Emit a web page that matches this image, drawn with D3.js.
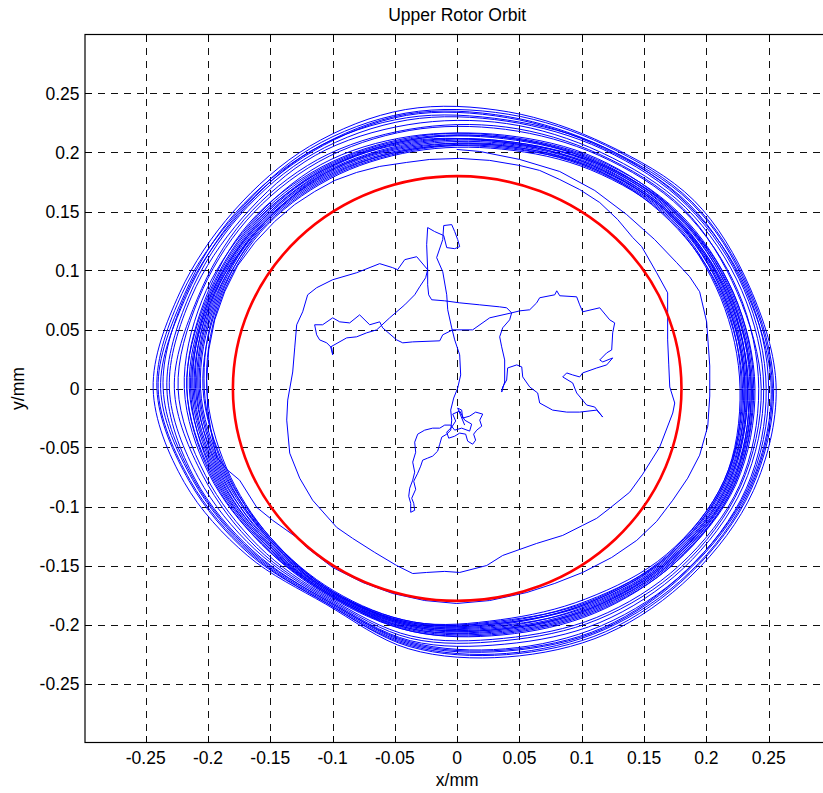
<!DOCTYPE html>
<html><head><meta charset="utf-8">
<script src="https://cdn.jsdelivr.net/npm/d3@7"></script>
<style>
body{margin:0;background:#fff}
text{font-family:"Liberation Sans",Arial,Helvetica,sans-serif;fill:#000}
</style>
</head><body>
<svg id="chart" width="823" height="793"></svg>
<script>
// ---------------- data ----------------
const chartTitle = "Upper Rotor Orbit";
const xLabel = "x/mm";
const yLabel = "y/mm";
const xLimits = [-0.2987, 0.3];
const yLimits = [-0.3, 0.3];
const xTicks = [-0.25,-0.2,-0.15,-0.1,-0.05,0,0.05,0.1,0.15,0.2,0.25];
const xTickLabels = ["-0.25","-0.2","-0.15","-0.1","-0.05","0","0.05","0.1","0.15","0.2","0.25"];
const yTicks = [-0.25,-0.2,-0.15,-0.1,-0.05,0,0.05,0.1,0.15,0.2,0.25];
const yTickLabels = ["-0.25","-0.2","-0.15","-0.1","-0.05","0","0.05","0.1","0.15","0.2","0.25"];
const refCircleRadius = 0.18;

// start-up wander of the rotor centre (mm)
const wanderX = [0.0060,0.0004,0.0036,0.0044,0.0100,0.0148,0.0205,0.0181,0.0197,0.0157,0.0132,0.0148,0.0124,0.0084,0.0068,0.0020,-0.0020,-0.0068,-0.0084,-0.0044,-0.0012,-0.0036,0.0020,0.0060,0.0116,0.0100,0.0036,-0.0020,-0.0052,-0.0100,
-0.0140,-0.0197,-0.0261,-0.0317,-0.0341,-0.0333,-0.0357,-0.0341,-0.0357,-0.0381,-0.0389,-0.0373,-0.0373,-0.0341,-0.0349,-0.0365,-0.0333,-0.0349,-0.0317,-0.0293,-0.0277,-0.0237,-0.0197,-0.0157,-0.0140,-0.0124,-0.0084,-0.0052,-0.0044,-0.0052,
-0.0028,0.0004,0.0028,0.0020,-0.0020,-0.0044,-0.0076,-0.0084,-0.0116,-0.0165,-0.0116,-0.0108,-0.0044,-0.0020,0.0004,0.0020,-0.0020,-0.0084,-0.0108,-0.0181,-0.0237,-0.0245,-0.0237,-0.0237,-0.0229,-0.0205,-0.0100,0.0020,0.0181,0.0341,
0.0397,0.0437,0.0502,0.0582,0.0638,0.0662,0.0783,0.0799,0.0823,0.0959,0.0983,0.1007,0.1144,0.1224,0.1264,0.1248,0.1240,0.1200,0.1144,0.1168,0.1248,0.1200,0.1120,0.1007,0.0983,0.0927,0.0879,0.0847,0.0927,0.0959,
0.1039,0.1104,0.1168,0.1120,0.0983,0.0879,0.0766,0.0662,0.0646,0.0582,0.0526,0.0518,0.0478,0.0405,0.0397,0.0365,0.0357,0.0381,0.0381,0.0357,0.0341,0.0365,0.0421,0.0437,0.0261,0.0124,-0.0036,-0.0116,-0.0140,-0.0357,
-0.0437,-0.0486,-0.0598,-0.0622,-0.0702,-0.0783,-0.0863,-0.0943,-0.0999,-0.1080,-0.1144,-0.1128,-0.1104,-0.1047,-0.1007,-0.0999,-0.1015,-0.0887,-0.0807,-0.0726,-0.0646,-0.0542,-0.0421,-0.0341,-0.0301,-0.0253,-0.0237];
const wanderY = [-0.0310,-0.0166,-0.0183,-0.0251,-0.0234,-0.0200,-0.0217,-0.0268,-0.0319,-0.0353,-0.0387,-0.0438,-0.0472,-0.0446,-0.0387,-0.0378,-0.0404,-0.0421,-0.0370,-0.0327,-0.0276,-0.0217,-0.0191,-0.0268,-0.0302,-0.0361,-0.0336,-0.0353,-0.0310,-0.0310,
-0.0336,-0.0336,-0.0353,-0.0387,-0.0455,-0.0540,-0.0624,-0.0709,-0.0777,-0.0845,-0.0913,-0.0973,-0.1049,-0.1032,-0.0973,-0.0930,-0.0854,-0.0786,-0.0718,-0.0658,-0.0607,-0.0590,-0.0573,-0.0531,-0.0472,-0.0412,-0.0387,-0.0353,-0.0268,-0.0183,
-0.0081,0.0004,0.0115,0.0285,0.0412,0.0514,0.0667,0.0794,0.0990,0.1109,0.1262,0.1381,0.1389,0.1330,0.1262,0.1202,0.1185,0.1194,0.1296,0.1330,0.1364,0.1219,0.1007,0.0879,0.0794,0.0752,0.0743,0.0726,0.0709,0.0692,
0.0684,0.0641,0.0658,0.0667,0.0726,0.0769,0.0794,0.0828,0.0786,0.0777,0.0709,0.0650,0.0684,0.0582,0.0556,0.0472,0.0327,0.0302,0.0242,0.0225,0.0259,0.0200,0.0174,0.0132,0.0098,0.0115,0.0132,0.0098,0.0047,-0.0038,
-0.0140,-0.0157,-0.0242,-0.0183,-0.0200,-0.0200,-0.0183,-0.0123,-0.0038,0.0013,0.0098,0.0183,0.0200,0.0174,0.0072,0.0013,-0.0030,0.0055,0.0242,0.0353,0.0438,0.0514,0.0582,0.0641,0.0599,0.0497,0.0497,0.0455,0.0404,0.0395,
0.0387,0.0412,0.0514,0.0565,0.0540,0.0624,0.0556,0.0565,0.0599,0.0540,0.0540,0.0455,0.0412,0.0387,0.0344,0.0285,0.0353,0.0429,0.0438,0.0472,0.0497,0.0599,0.0709,0.0794,0.0862,0.0939,0.1007];

// first two growing turns of the orbit (mm)
const spiralX = [-0.0237,-0.0325,-0.0421,-0.0478,-0.0518,-0.0622,-0.0807,-0.0999,-0.1128,-0.1200,-0.1240,-0.1288,-0.1304,-0.1320,-0.1360,-0.1368,-0.1344,-0.1264,-0.1160,-0.0967,
-0.0839,-0.0662,-0.0486,-0.0357,-0.0245,-0.0100,0.0020,0.0237,0.0365,0.0638,0.0847,0.1007,0.1120,0.1224,0.1384,0.1489,0.1625,0.1730,0.1746,0.1706,
0.1698,0.1689,0.1689,0.1689,0.1601,0.1481,0.1409,0.1288,0.1144,0.0983,0.0823,0.0662,0.0502,0.0261,0.0020,-0.0221,-0.0405,-0.0622,-0.0807,-0.0983,
-0.1144,-0.1304,-0.1465,-0.1625,-0.1762,-0.1866,-0.1946,-0.1994,-0.2010,-0.2002,-0.1970,-0.1930,-0.1842,-0.1746,-0.1609,-0.1481,-0.1288,-0.1208,-0.0999,-0.0758,
-0.0518,-0.0261,-0.0004,0.0261,0.0558,0.0783,0.1007,0.1240,0.1441,0.1601,0.1730,0.1850,0.1946,0.2011,0.2027,0.2027,0.2002,0.1946,0.1866,0.1762,
0.1585,0.1360,0.1104,0.0823,0.0502,0.0181,-0.0004];
const spiralY = [0.1007,0.1117,0.1092,0.1007,0.1024,0.1058,0.0981,0.0922,0.0854,0.0794,0.0650,0.0540,0.0344,0.0140,-0.0098,-0.0268,-0.0548,-0.0760,-0.0947,-0.1177,
-0.1270,-0.1389,-0.1500,-0.1568,-0.1559,-0.1550,-0.1559,-0.1500,-0.1415,-0.1313,-0.1245,-0.1160,-0.1100,-0.1015,-0.0879,-0.0726,-0.0497,-0.0208,-0.0123,0.0013,
0.0200,0.0412,0.0667,0.0811,0.0981,0.1202,0.1279,0.1432,0.1576,0.1686,0.1771,0.1848,0.1890,0.1933,0.1950,0.1941,0.1916,0.1882,0.1831,0.1763,
0.1669,0.1559,0.1415,0.1236,0.1041,0.0820,0.0582,0.0327,0.0072,-0.0183,-0.0395,-0.0582,-0.0692,-0.0777,-0.1007,-0.1117,-0.1262,-0.1347,-0.1517,-0.1644,
-0.1737,-0.1797,-0.1822,-0.1797,-0.1729,-0.1652,-0.1559,-0.1432,-0.1287,-0.1126,-0.0947,-0.0760,-0.0565,-0.0319,-0.0064,0.0191,0.0565,0.0820,0.0947,0.1066,
0.1262,0.1474,0.1678,0.1839,0.1941,0.2009,0.2026];

// steady orbit turns: radius (mm) read at each angle (deg)
const ringAngles = [0,20,40,60,80,100,120,140,160,180,200,220,240,260,280,300,320,340];
const ringRadii = [
 [.227,.225,.223,.214,.206,.204,.205,.206,.204,.201,.197,.196,.198,.201,.199,.206,.219,.228],
 [.229,.226,.224,.215,.208,.205,.206,.207,.206,.203,.199,.196,.199,.202,.200,.209,.220,.228],
 [.230,.228,.225,.216,.209,.206,.208,.209,.207,.206,.200,.198,.200,.202,.202,.210,.221,.229],
 [.231,.229,.226,.217,.209,.208,.210,.209,.209,.208,.202,.198,.200,.203,.202,.211,.223,.231],
 [.232,.230,.227,.219,.211,.209,.211,.211,.210,.209,.204,.199,.201,.204,.204,.213,.224,.232],
 [.233,.232,.227,.220,.213,.211,.212,.212,.211,.211,.205,.201,.201,.205,.206,.214,.225,.233],
 [.235,.233,.229,.221,.213,.212,.214,.213,.212,.213,.207,.202,.202,.206,.207,.215,.226,.234],
 [.236,.233,.230,.222,.215,.214,.214,.215,.214,.215,.208,.203,.202,.207,.209,.217,.227,.236],
 [.237,.235,.230,.223,.216,.215,.216,.216,.215,.217,.210,.204,.203,.208,.210,.218,.228,.237],
 [.239,.236,.232,.224,.217,.217,.219,.217,.218,.219,.212,.205,.203,.209,.212,.220,.229,.238],
 [.228,.227,.222,.216,.207,.206,.207,.208,.205,.204,.198,.197,.199,.201,.201,.208,.221,.229],
 [.231,.228,.226,.218,.210,.207,.209,.210,.208,.207,.201,.197,.199,.203,.203,.210,.222,.230],
 [.233,.231,.226,.218,.212,.210,.211,.209,.211,.210,.203,.200,.200,.204,.205,.212,.224,.232],
 [.234,.231,.228,.221,.212,.213,.213,.212,.213,.212,.206,.201,.202,.205,.207,.215,.225,.235],
 [.236,.234,.231,.222,.216,.214,.215,.214,.213,.214,.209,.203,.203,.207,.208,.216,.227,.235],
 [.238,.236,.231,.225,.218,.216,.217,.218,.216,.217,.211,.205,.204,.209,.211,.219,.229,.237],
 [.242,.240,.236,.228,.223,.222,.222,.221,.221,.224,.215,.208,.205,.213,.215,.224,.233,.241],
 [.244,.239,.237,.229,.225,.223,.224,.223,.222,.227,.217,.210,.206,.215,.217,.226,.235,.242],
 [.246,.243,.239,.231,.228,.227,.228,.225,.227,.231,.221,.212,.207,.217,.220,.229,.237,.244],
 [.248,.245,.241,.234,.230,.231,.230,.228,.229,.233,.224,.214,.208,.218,.224,.232,.240,.247],
 [.250,.247,.242,.236,.231,.233,.233,.229,.232,.236,.225,.215,.208,.219,.225,.234,.240,.248],
 [.252,.246,.243,.235,.233,.235,.232,.230,.231,.238,.226,.216,.209,.220,.226,.235,.241,.249],
 [.253,.248,.245,.236,.234,.236,.233,.232,.233,.240,.228,.217,.210,.221,.228,.236,.243,.250],
 [.254,.249,.246,.238,.236,.237,.235,.231,.235,.241,.229,.218,.210,.222,.229,.238,.244,.251],
 [.256,.250,.248,.239,.238,.240,.237,.234,.237,.244,.233,.220,.211,.224,.231,.240,.246,.253]
];

// ---------------- drawing ----------------
const W = 823, H = 793;
const plot = {left: 85, right: 831, top: 34.5, bottom: 742.5};
const svg = d3.select("#chart");
const x = d3.scaleLinear().domain(xLimits).range([plot.left, plot.right]);
const y = d3.scaleLinear().domain(yLimits).range([plot.bottom, plot.top]);
const FS = 17.5;

svg.append("rect").attr("width", W).attr("height", H).attr("fill", "#fff");

svg.append("defs").append("clipPath").attr("id", "clip")
  .append("rect").attr("x", plot.left).attr("y", plot.top)
  .attr("width", plot.right - plot.left).attr("height", plot.bottom - plot.top);

// grid
const grid = svg.append("g").attr("stroke", "#111").attr("stroke-width", 1)
  .attr("stroke-dasharray", "7,6").attr("shape-rendering", "crispEdges");
xTicks.forEach(t => grid.append("line")
  .attr("x1", Math.round(x(t)) + 0.5).attr("x2", Math.round(x(t)) + 0.5)
  .attr("y1", plot.top).attr("y2", plot.bottom));
yTicks.forEach(t => grid.append("line")
  .attr("y1", Math.round(y(t)) + 0.5).attr("y2", Math.round(y(t)) + 0.5)
  .attr("x1", plot.left).attr("x2", plot.right));

// data
const data = svg.append("g").attr("clip-path", "url(#clip)");
const line = d3.line().x(d => x(d[0])).y(d => y(d[1]));
const closed = d3.line().x(d => x(d[0])).y(d => y(d[1])).curve(d3.curveCatmullRomClosed.alpha(0.5));
const toRad = a => a * Math.PI / 180;

ringRadii.forEach(radii => {
  const pts = radii.map((r, i) => [r * Math.cos(toRad(ringAngles[i])), r * Math.sin(toRad(ringAngles[i]))]);
  data.append("path").attr("d", closed(pts))
    .attr("fill", "none").attr("stroke", "#0000ff").attr("stroke-width", 1);
});

data.append("path").attr("d", line(spiralX.map((v, i) => [v, spiralY[i]])))
  .attr("fill", "none").attr("stroke", "#0000ff").attr("stroke-width", 1);
data.append("path").attr("d", line(wanderX.map((v, i) => [v, wanderY[i]])))
  .attr("fill", "none").attr("stroke", "#0000ff").attr("stroke-width", 1)
  .attr("stroke-linejoin", "round");

data.append("ellipse")
  .attr("cx", x(0)).attr("cy", y(0))
  .attr("rx", x(refCircleRadius) - x(0)).attr("ry", y(0) - y(refCircleRadius))
  .attr("fill", "none").attr("stroke", "#ff0000").attr("stroke-width", 2.6);

// axes box
const ax = svg.append("g").attr("stroke", "#000").attr("stroke-width", 1.2).attr("fill", "none");
ax.append("rect").attr("x", plot.left).attr("y", plot.top)
  .attr("width", plot.right - plot.left).attr("height", plot.bottom - plot.top);

// ticks (inward)
const TL = 7;
const tk = svg.append("g").attr("stroke", "#000").attr("stroke-width", 1).attr("shape-rendering", "crispEdges");
xTicks.forEach(t => {
  const px = Math.round(x(t)) + 0.5;
  tk.append("line").attr("x1", px).attr("x2", px).attr("y1", plot.bottom).attr("y2", plot.bottom - TL);
  tk.append("line").attr("x1", px).attr("x2", px).attr("y1", plot.top).attr("y2", plot.top + TL);
});
yTicks.forEach(t => {
  const py = Math.round(y(t)) + 0.5;
  tk.append("line").attr("y1", py).attr("y2", py).attr("x1", plot.left).attr("x2", plot.left + TL);
  tk.append("line").attr("y1", py).attr("y2", py).attr("x1", plot.right).attr("x2", plot.right - TL);
});

// tick labels
const lab = svg.append("g").attr("font-size", FS);
xTicks.forEach((t, i) => lab.append("text")
  .attr("x", x(t)).attr("y", plot.bottom + 21.5)
  .attr("text-anchor", "middle").text(xTickLabels[i]));
yTicks.forEach((t, i) => lab.append("text")
  .attr("x", plot.left - 5.5).attr("y", y(t)).attr("dy", "0.35em")
  .attr("text-anchor", "end").text(yTickLabels[i]));

// titles
svg.append("text").attr("x", x(0)).attr("y", 21).attr("text-anchor", "middle")
  .attr("font-size", FS).text(chartTitle);
svg.append("text").attr("x", x(0)).attr("y", 786).attr("text-anchor", "middle")
  .attr("font-size", FS).text(xLabel);
svg.append("text").attr("transform", `translate(24,${y(0)}) rotate(-90)`)
  .attr("text-anchor", "middle").attr("font-size", FS).text(yLabel);
</script>
</body></html>
